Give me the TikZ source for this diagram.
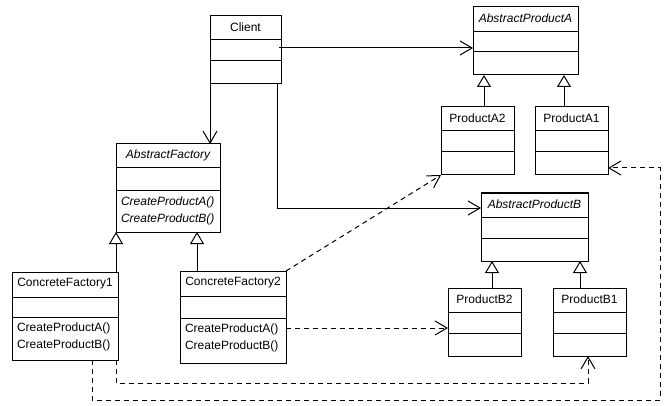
\documentclass[tikz,border=0pt]{standalone}
\usepackage{fontspec}
\setmainfont{Liberation Sans}
\usetikzlibrary{arrows.meta,calc}
\newcommand\umlbox[8]{%
  \node[umlrect, minimum width=#4pt, minimum height=#5pt] (#1) at (#2,#3) {};
  \draw ($(#1.north west)+(0,#6)$) -- ($(#1.north east)+(0,#6)$);
  \draw ($(#1.north west)+(0,#7)$) -- ($(#1.north east)+(0,#7)$);
  \node[lbl] (#1-t) at ($(#1.north)+(0,#6/2-1)$) {#8};
}
\newcommand\umlops[4]{%
  \node[lbl, anchor=west] (#1-o1) at ($(#1.north west)+(5,#2+11)$) {#3};
  \node[lbl, anchor=west] (#1-o2) at ($(#1.north west)+(5,#2+28)$) {#4};
}
\begin{document}
\begin{tikzpicture}[x=1pt, y=-1pt, line width=1pt,
  font=\fontsize{12}{14}\selectfont,
  umlrect/.style={draw, anchor=north west, inner sep=0pt, outer sep=0pt, fill=white},
  lbl/.style={inner sep=0pt, outer sep=0pt, anchor=center},
  dep/.style={dash pattern=on 5pt off 4pt},
  assoc/.style={-{Straight Barb[length=12pt,width=14pt]}},
  gen/.style={-{Triangle[open,length=12pt,width=14pt,fill=white]}}]
\useasboundingbox (0,0) rectangle (666,406);
\fill[white] (0,0) rectangle (666,406);

\umlbox{client}{210}{16}{71}{68}{24}{45}{Client}
\umlbox{af}{116}{144}{104}{88}{24}{47}{\itshape AbstractFactory}
\umlops{af}{47}{\itshape CreateProductA()}{\itshape CreateProductB()}
\umlbox{apa}{473}{7}{105}{68}{25}{45}{\itshape AbstractProductA}
\umlbox{pa2}{441}{107}{73}{68}{24}{45}{ProductA2}
\umlbox{pa1}{535}{107}{73}{68}{24}{45}{ProductA1}
\umlbox{apb}{481}{193}{107}{68}{24}{45}{\itshape AbstractProductB}
\umlbox{pb2}{448}{288}{73}{68}{24}{45}{ProductB2}
\umlbox{pb1}{553}{288}{73}{68}{24}{45}{ProductB1}
\umlbox{cf1}{12}{272}{106}{88}{25}{45}{ConcreteFactory1}
\umlops{cf1}{45}{CreateProductA()}{CreateProductB()}
\umlbox{cf2}{180}{271}{106}{92}{25}{47}{ConcreteFactory2}
\umlops{cf2}{47}{CreateProductA()}{CreateProductB()}

% associations from Client
\draw[assoc] ($(client.north east)+(-2,32)$) -- ($(apa.north west)+(0,41)$);
\draw[assoc] (client.south west) -- (client.south west |- af.north);
\draw[assoc] ($(client.south east)+(-4,0)$) |- ($(apb.north west)+(0,15)$);

% generalizations
\draw[gen] ($(pa2.north west)+(43,0)$) -- ($(apa.south west)+(11,0)$);
\draw[gen] ($(pa1.north west)+(29,0)$) -- ($(apa.south west)+(91,0)$);
\draw[gen] ($(pb2.north west)+(44,0)$) -- ($(apb.south west)+(11,0)$);
\draw[gen] ($(pb1.north west)+(27,0)$) -- ($(apb.south west)+(99,0)$);
\draw[gen] ($(cf1.north west)+(104,0)$) -- (af.south west);
\draw[gen] ($(cf2.north west)+(17,0)$) -- ($(af.south west)+(81,0)$);

% dependencies
\coordinate (r1) at (660,400);
\coordinate (r2) at (660,168);
\draw[dep, assoc] (cf2.north east) -- (pa2.south west);
\draw[dep, assoc] ($(cf2.north east)+(0,57)$) -- ($(pb2.north west)+(0,40)$);
\draw[dep, assoc] ($(cf1.south west)+(104,0)$) |- ($(pb1.south west)+(35,27)$) -- ($(pb1.south west)+(35,0)$);
\draw[dep, assoc] ($(cf1.south west)+(80,0)$) |- (r1) -- (r2) -- (r2 -| pa1.east);
\end{tikzpicture}
\end{document}
